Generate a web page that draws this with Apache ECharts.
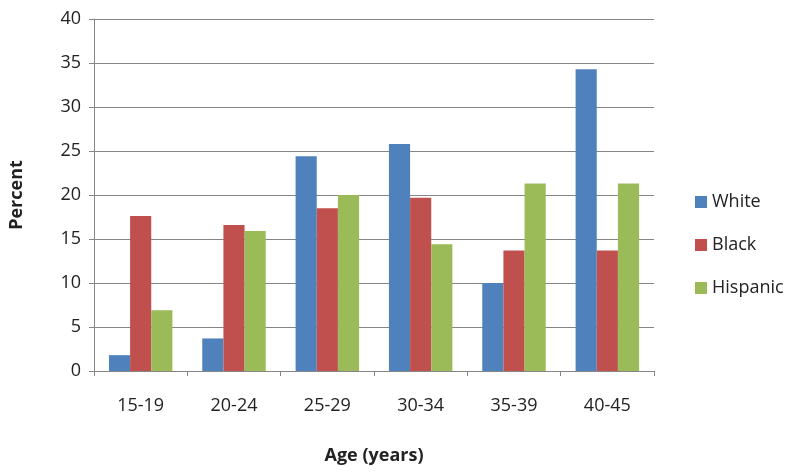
<!DOCTYPE html>
<html><head><meta charset="utf-8">
<script src="https://cdn.jsdelivr.net/npm/echarts@6/dist/echarts.min.js"></script>
<style>html,body{margin:0;padding:0;background:#fff}#c{width:800px;height:475px}</style>
</head><body><div id="c"></div>
<script>
const categories = ['15-19','20-24','25-29','30-34','35-39','40-45'];
const white = [1.8, 3.7, 24.4, 25.8, 10.0, 34.3];
const black = [17.6, 16.6, 18.5, 19.7, 13.7, 13.7];
const hispanic = [6.9, 15.9, 20.0, 14.4, 21.3, 21.3];
const yTicks = [0, 5, 10, 15, 20, 25, 30, 35, 40];

const font = 'Open Sans';
const chart = echarts.init(document.getElementById('c'));
const mk = (name, data, color) => ({
  name, type: 'bar', data, barGap: '0%', barCategoryGap: '32%',
  itemStyle: { color }
});
chart.setOption({
  animation: false,
  grid: { left: 94, right: 146, top: 19, bottom: 104, containLabel: false },
  legend: {
    orient: 'vertical', left: 690, top: 188, itemGap: 25,
    itemWidth: 12, itemHeight: 12, icon: 'rect',
    textStyle: { fontFamily: font, fontSize: 18, color: '#222' },
    data: ['White', 'Black', 'Hispanic']
  },
  xAxis: {
    type: 'category', data: categories,
    name: 'Age (years)', nameLocation: 'middle', nameGap: 76,
    nameTextStyle: { fontFamily: font, fontSize: 18, fontWeight: 'bold', color: '#222' },
    axisLine: { lineStyle: { color: '#868686' } },
    axisTick: { show: true, length: 5, lineStyle: { color: '#868686' } },
    axisLabel: { fontFamily: font, fontSize: 18, color: '#222', margin: 26 }
  },
  yAxis: {
    type: 'value', min: 0, max: 40, interval: 5,
    name: 'Percent', nameLocation: 'middle', nameGap: 68, nameRotate: 90,
    nameTextStyle: { fontFamily: font, fontSize: 18, fontWeight: 'bold', color: '#222' },
    axisLine: { show: true, lineStyle: { color: '#868686' } },
    axisTick: { show: true, length: 5, lineStyle: { color: '#868686' } },
    axisLabel: { fontFamily: font, fontSize: 18, color: '#222', margin: 13,
      formatter: v => yTicks.includes(v) ? String(v) : '' },
    splitLine: { lineStyle: { color: '#868686' } }
  },
  series: [
    mk('White', white, '#4F81BD'),
    mk('Black', black, '#C0504D'),
    mk('Hispanic', hispanic, '#9BBB59')
  ]
});
</script></body></html>
